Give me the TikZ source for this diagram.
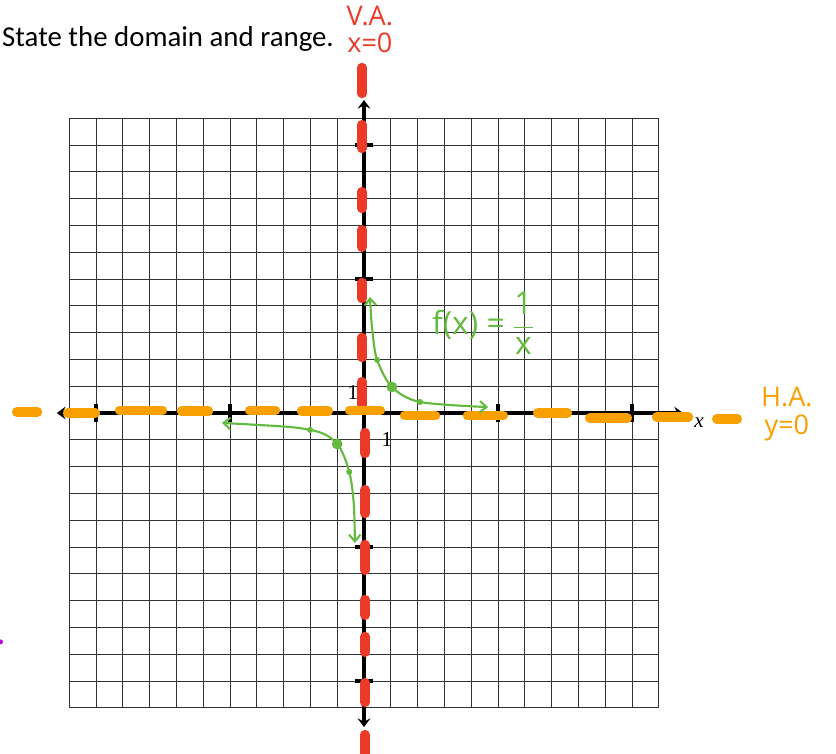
\documentclass[tikz,border=0pt]{standalone}
\usepackage{amsmath}
\usepackage{fontspec}
\setmainfont{Liberation Serif}
\newfontfamily\calibri{Carlito}
\newfontfamily\hand{Open Sans}
\usetikzlibrary{arrows.meta,positioning}
\definecolor{vared}{RGB}{236,58,40}
\definecolor{haorange}{RGB}{248,160,0}
\definecolor{fgreen}{RGB}{100,186,64}
\definecolor{markviolet}{RGB}{190,0,230}

\begin{document}
\begin{tikzpicture}[x=0.8cm,y=0.8cm,
      gridline/.style={draw=black!80,line width=0.75pt},
      axis/.style={line width=2.6pt,
        {Stealth[length=2.6mm,width=3.8mm,inset=1mm]}-{Stealth[length=2.6mm,width=3.8mm,inset=1mm]}},
      tickmark/.style={line width=2.6pt},
      vadash/.style={vared,line width=8pt,line cap=round},
      hadash/.style={haorange,line width=8pt,line cap=round},
      curve/.style={fgreen,line width=1.8pt,
        {Straight Barb[length=2mm,width=3.4mm]}-{Straight Barb[length=2mm,width=3.4mm]}},
      dot/.style={circle,fill=fgreen,inner sep=0pt,minimum size=1.8mm},
      bigdot/.style={dot,minimum size=3.2mm},
      hw/.style={font=\hand\fontsize{23}{25}\selectfont,inner sep=0pt},
      num/.style={font=\fontsize{18}{20}\selectfont,inner sep=0pt}]
    \useasboundingbox (-13.582,-12.687) rectangle (17.612,15.410);
    \draw[gridline,step=1] (-11,-11) grid (11,11);
    \coordinate (xl) at (-11.46,0); \coordinate (xr) at (11.9,0);
    \coordinate (yb) at (0,-11.72); \coordinate (yt) at (0,11.68);
    \draw[axis] (xl) -- (xr);
    \draw[axis] (yb) -- (yt);
    \foreach \t in {-10,-5,5,10} {
      \draw[tickmark] (\t,-0.35) -- (\t,0.35);
      \draw[tickmark] (-0.35,\t) -- (0.35,\t);
    }
    \node[num] (one1) at (-0.41,0.75) {1};
    \node[num] (one2) at (0.86,-1.0) {1};
    \node[num] (xlab) at (12.5,-0.37) {\textit{x}};
    \foreach \a/\b in {12.89/11.92,10.76/9.87,8.26/7.63,6.84/6.18,4.87/4.27,2.82/2.07,1.17/0.21}
      \draw[vadash] (-0.07,\a) -- (-0.07,\b);
    \foreach \a/\b in {-0.73/-1.51,-2.86/-3.75,-4.91/-5.87,-6.96/-7.55,-8.34/-8.93,-10.06/-10.8,-12.0/-12.9}
      \draw[vadash] (0.04,\a) -- (0.04,\b);
    \foreach \a/\b/\h in {-12.96/-12.18/0.04,-11.06/-10.02/0,-9.12/-7.52/0.1,-6.81/-5.80/0.07,
        -4.27/-3.30/0.1,-2.33/-1.33/0.07,-0.54/0.61/0.1,1.51/2.67/-0.1,3.86/5.20/-0.1,
        6.48/7.59/0,8.42/9.83/-0.19,10.92/12.11/-0.15,13.16/13.93/-0.22}
      \draw[hadash] (\a,\h) -- (\b,\h);
    \draw[curve] plot[smooth] coordinates {(0.22,4.33) (0.32,3.0) (0.49,1.98) (1.04,0.97) (2.09,0.41) (4.63,0.22)};
    \draw[curve] plot[smooth] coordinates {(-5.3,-0.37) (-2.01,-0.63) (-1.0,-1.16) (-0.55,-2.2) (-0.38,-3.4) (-0.34,-4.85)};
    \node[dot] (pa) at (0.49,1.98) {};
    \node[bigdot] (pb) at (1.04,0.97) {};
    \node[dot] (pc) at (2.09,0.41) {};
    \node[dot] (pd) at (-2.01,-0.63) {};
    \node[bigdot] (pe) at (-1.0,-1.16) {};
    \node[dot] (pf) at (-0.55,-2.2) {};
    \node[anchor=base west,inner sep=0pt,font=\calibri\fontsize{24.5}{26}\selectfont] (task) at (-13.51,13.66) {State the domain and range.};
    \node[hw,vared] (va) at (0.22,14.81) {V.A.};
    \node[hw,vared,below=0.25 of va] (vaeq) {x=0};
    \node[hw,haorange] (ha) at (15.78,0.6) {H.A.};
    \node[hw,haorange,below=0.3 of ha] (haeq) {y=0};
    \node[hw,fgreen,font=\hand\fontsize{27}{29}\selectfont] (fx) at (4.44,3.35) {f(x) = $\dfrac{\text{1}}{\text{x}}$};
    \fill[markviolet] (-13.56,-8.54) circle (0.09);
  \end{tikzpicture}
\end{document}
